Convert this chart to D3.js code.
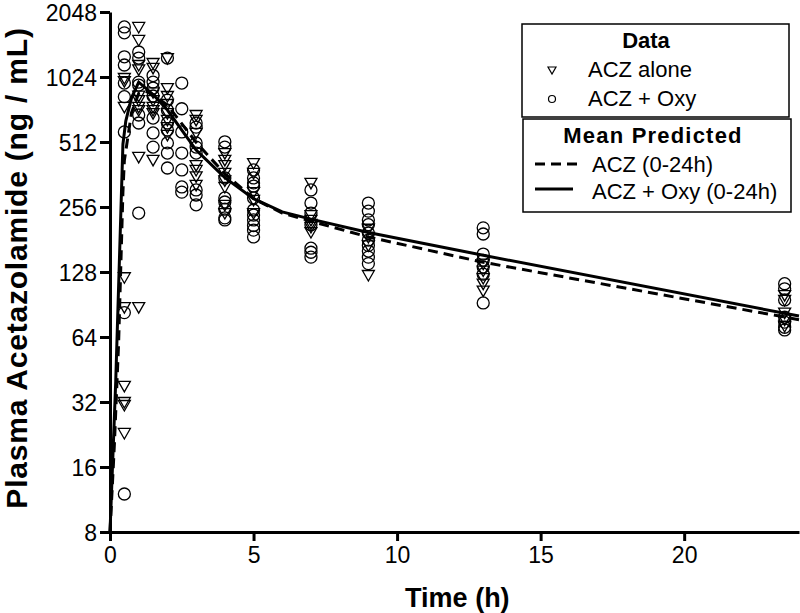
<!DOCTYPE html>
<html>
<head>
<meta charset="utf-8">
<script src="https://cdn.jsdelivr.net/npm/d3@7"></script>
<style>
  body { margin: 0; background: #fff; }
  svg { font-family: "Liberation Sans", Arial, sans-serif; }
</style>
</head>
<body>
<div id="chart"></div>
<script>
// Sampling times (h)
const sampleTimes = [0.5, 1, 1.5, 2, 2.5, 3, 4, 5, 7, 9, 13, 23.5];

// Observed concentrations (ng/mL), one list per sampling time
const aczAlone = [
  [1013, 980, 745, 121, 88, 38, 32, 31, 23],
  [1746, 1520, 1164, 1110, 840, 800, 745, 720, 437, 88],
  [1189, 1128, 870, 800, 745, 720, 697, 423],
  [1253, 910, 836, 768, 697, 648, 600, 552],
  [],
  [683, 648, 564, 400, 380, 355, 324],
  [455, 423, 400, 368, 340, 317, 262, 240],
  [409, 368, 300, 276, 240],
  [331, 235, 223, 214, 207, 196],
  [203, 186, 170, 124],
  [140, 130, 120, 113, 105],
  [100, 95, 83, 77, 72]
];

const aczOxy = [
  [1746, 1640, 1270, 1164, 960, 830, 570, 83, 12],
  [1337, 1253, 970, 940, 683, 627, 240],
  [1040, 970, 910, 836, 661, 564, 485],
  [1253, 801, 720, 627, 582, 507, 455, 388],
  [960, 730, 570, 455, 380, 317, 300],
  [627, 600, 507, 485, 455, 307, 291, 262],
  [513, 485, 349, 282, 270, 250, 228, 223],
  [380, 349, 331, 320, 282, 248, 235, 223, 210, 200, 186],
  [307, 267, 240, 212, 165, 158, 150],
  [267, 245, 223, 212, 194, 180, 170, 160, 150, 140],
  [205, 192, 155, 145, 135, 125, 92],
  [113, 107, 95, 79, 75, 71, 69]
];

// Mean predicted curves
const predTimesAcz = [0, 0.15, 0.3, 0.45, 0.5, 0.75, 1, 1.25, 1.5, 2, 3, 4, 5, 6, 7, 9, 13, 24];
const predAcz      = [8, 20, 60, 300, 420, 700, 860, 880, 840, 760, 510, 365, 280, 240, 220, 186, 142, 77];

const predTimesOxy = [0, 0.2, 0.45, 0.55, 0.75, 1, 1.5, 2, 3, 4, 5, 6, 7, 9, 13, 24];
const predOxy      = [8, 40, 500, 640, 820, 970, 850, 720, 470, 350, 280, 243, 225, 195, 153, 80];

// Axis ticks
const xTicks = [0, 5, 10, 15, 20];
const yTicks = [8, 16, 32, 64, 128, 256, 512, 1024, 2048];

// Dimensions
const margin = {top: 12, right: 1, bottom: 81, left: 110};
const width = 800 - margin.left - margin.right;
const height = 613 - margin.top - margin.bottom;

const svg = d3.select("#chart")
  .append("svg")
  .attr("width", 800)
  .attr("height", 613)
  .append("g")
  .attr("transform", `translate(${margin.left},${margin.top})`);

// Scales
const x = d3.scaleLinear().domain([0, 24]).range([0, width]);
const y = d3.scaleLog().base(2).domain([8, 2048]).range([height, 0]);

// Axes
const xAxis = svg.append("g")
  .attr("transform", `translate(0,${height})`)
  .call(d3.axisBottom(x).tickValues(xTicks).tickSize(9).tickSizeOuter(0).tickPadding(6));

const yAxis = svg.append("g")
  .call(d3.axisLeft(y).tickValues(yTicks).tickFormat(d3.format("d")).tickSize(10).tickSizeOuter(0).tickPadding(3));

[xAxis, yAxis].forEach(g => {
  g.select(".domain").attr("stroke-width", 3);
  g.selectAll(".tick line").attr("stroke-width", 3);
  g.selectAll(".tick text")
    .attr("font-family", "Liberation Sans, Arial, sans-serif")
    .attr("font-size", 23)
    .attr("fill", "#000");
});
yAxis.selectAll(".tick text").attr("dy", "0.36em");

// Axis labels
svg.append("text")
  .attr("x", x(12.1))
  .attr("y", height + 75)
  .attr("text-anchor", "middle")
  .attr("font-weight", "bold")
  .attr("font-size", 27)
  .text("Time (h)");

svg.append("text")
  .attr("transform", "rotate(-90)")
  .attr("x", -(268 - margin.top))
  .attr("y", -83)
  .attr("text-anchor", "middle")
  .attr("font-weight", "bold")
  .attr("font-size", 30)
  .attr("letter-spacing", 0.8)
  .text("Plasma Acetazolamide (ng / mL)");

// Predicted lines
const line = d3.line()
  .x(d => x(d[0]))
  .y(d => y(d[1]));

svg.append("path")
  .datum(predTimesAcz.map((t, i) => [t, predAcz[i]]))
  .attr("fill", "none")
  .attr("stroke", "#000")
  .attr("stroke-width", 3)
  .attr("stroke-dasharray", "10,6")
  .attr("d", line);

svg.append("path")
  .datum(predTimesOxy.map((t, i) => [t, predOxy[i]]))
  .attr("fill", "none")
  .attr("stroke", "#000")
  .attr("stroke-width", 3)
  .attr("d", line);

// Observed points
const triangle = "M-6,-4.5L6,-4.5L0,6Z";

const alonePts = [];
const oxyPts = [];
sampleTimes.forEach((t, i) => {
  aczAlone[i].forEach(v => alonePts.push([t, v]));
  aczOxy[i].forEach(v => oxyPts.push([t, v]));
});

svg.selectAll(".obs-oxy")
  .data(oxyPts)
  .enter()
  .append("circle")
  .attr("class", "obs-oxy")
  .attr("cx", d => x(d[0]))
  .attr("cy", d => y(d[1]))
  .attr("r", 6)
  .attr("fill", "none")
  .attr("stroke", "#000")
  .attr("stroke-width", 1.3);

svg.selectAll(".obs-alone")
  .data(alonePts)
  .enter()
  .append("path")
  .attr("class", "obs-alone")
  .attr("transform", d => `translate(${x(d[0])},${y(d[1])})`)
  .attr("d", triangle)
  .attr("fill", "none")
  .attr("stroke", "#000")
  .attr("stroke-width", 1.3);

// Legend (page coordinates)
const legend = d3.select("#chart svg").append("g");

legend.append("rect")
  .attr("x", 522).attr("y", 24).attr("width", 267).attr("height", 93)
  .attr("fill", "#fff").attr("stroke", "#000").attr("stroke-width", 1.5);
legend.append("rect")
  .attr("x", 523).attr("y", 119).attr("width", 268).attr("height", 93)
  .attr("fill", "#fff").attr("stroke", "#000").attr("stroke-width", 1.5);

legend.append("text")
  .attr("x", 646).attr("y", 48)
  .attr("text-anchor", "middle")
  .attr("font-weight", "bold").attr("font-size", 22)
  .text("Data");

legend.append("path")
  .attr("transform", "translate(552,70)")
  .attr("d", "M-4,-3L4,-3L0,4Z")
  .attr("fill", "none").attr("stroke", "#000").attr("stroke-width", 1.2);
legend.append("circle")
  .attr("cx", 552).attr("cy", 99).attr("r", 3.5)
  .attr("fill", "none").attr("stroke", "#000").attr("stroke-width", 1.2);

legend.append("text").attr("x", 588).attr("y", 77).attr("font-size", 22).text("ACZ alone");
legend.append("text").attr("x", 588).attr("y", 106).attr("font-size", 22).text("ACZ + Oxy");

legend.append("text")
  .attr("x", 653).attr("y", 143)
  .attr("text-anchor", "middle")
  .attr("font-weight", "bold").attr("font-size", 22)
  .attr("letter-spacing", 1.2)
  .text("Mean Predicted");

legend.append("line")
  .attr("x1", 535).attr("x2", 577).attr("y1", 164).attr("y2", 164)
  .attr("stroke", "#000").attr("stroke-width", 3).attr("stroke-dasharray", "10,6");
legend.append("line")
  .attr("x1", 535).attr("x2", 573).attr("y1", 189).attr("y2", 189)
  .attr("stroke", "#000").attr("stroke-width", 3);

legend.append("text").attr("x", 592).attr("y", 172).attr("font-size", 22).text("ACZ (0-24h)");
legend.append("text").attr("x", 592).attr("y", 199).attr("font-size", 22).text("ACZ + Oxy (0-24h)");
</script>
</body>
</html>
